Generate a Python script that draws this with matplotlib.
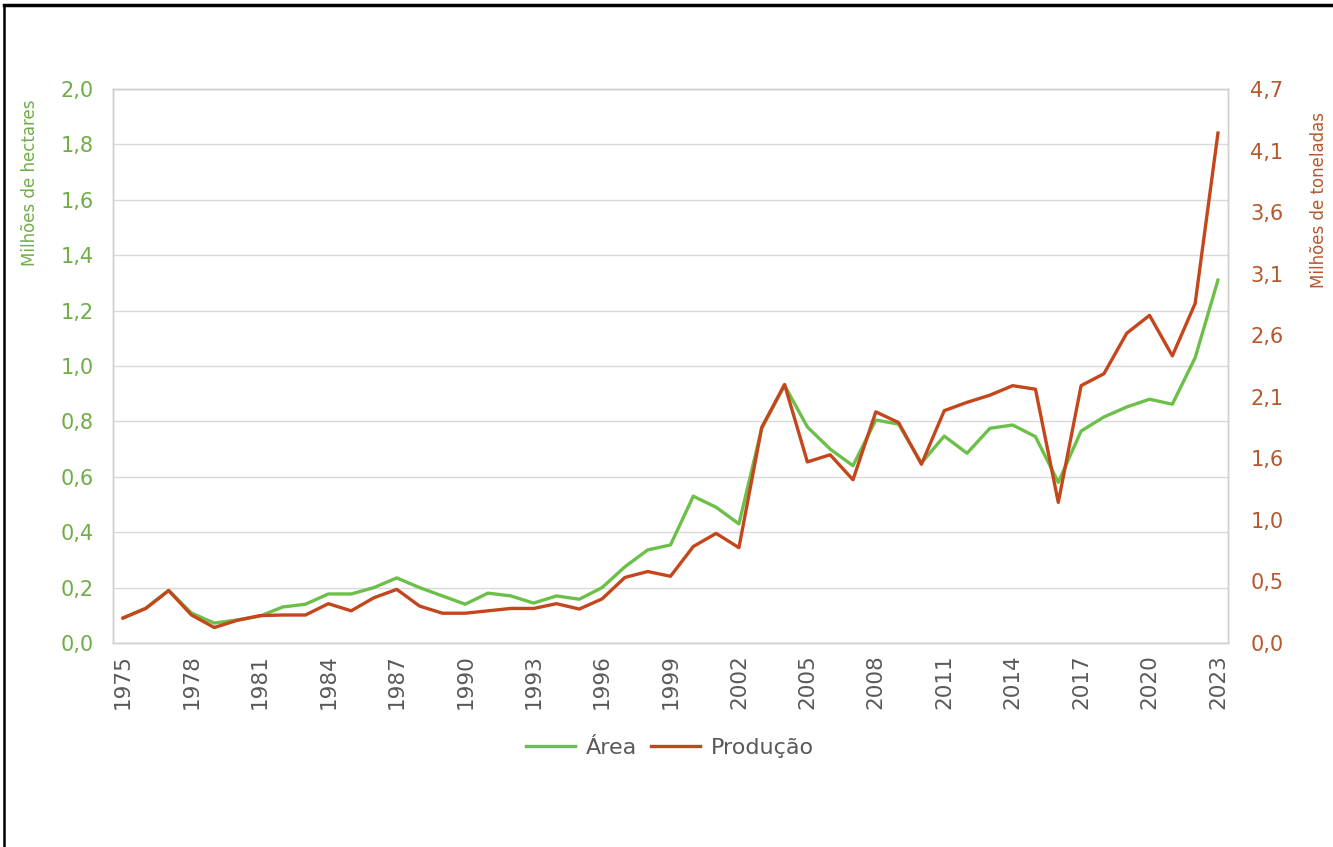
import numpy as np
import matplotlib.pyplot as plt
from matplotlib.lines import Line2D

# ---------- DATA ----------
years = list(range(1975, 2024))
area = [0.09, 0.126, 0.19, 0.108, 0.072, 0.083, 0.097, 0.13, 0.14, 0.177,
        0.177, 0.20, 0.235, 0.20, 0.17, 0.14, 0.18, 0.17, 0.144, 0.17,
        0.158, 0.20, 0.275, 0.336, 0.354, 0.53, 0.49, 0.43, 0.775, 0.93,
        0.78, 0.70, 0.64, 0.805, 0.79, 0.65, 0.747, 0.685, 0.775, 0.787,
        0.745, 0.58, 0.765, 0.816, 0.852, 0.88, 0.862, 1.03, 1.31]
producao = [0.21, 0.29, 0.44, 0.235, 0.13, 0.19, 0.23, 0.235, 0.235, 0.33,
            0.27, 0.38, 0.45, 0.31, 0.25, 0.25, 0.27, 0.29, 0.29, 0.33,
            0.285, 0.37, 0.55, 0.60, 0.56, 0.81, 0.92, 0.80, 1.81, 2.17,
            1.52, 1.58, 1.37, 1.94, 1.85, 1.50, 1.95, 2.02, 2.08, 2.16,
            2.13, 1.18, 2.16, 2.26, 2.60, 2.75, 2.41, 2.85, 4.28]
left_ticks = [0.0, 0.2, 0.4, 0.6, 0.8, 1.0, 1.2, 1.4, 1.6, 1.8, 2.0]
right_max = 4.65
right_labels = ['0,0', '0,5', '1,0', '1,6', '2,1', '2,6', '3,1', '3,6', '4,1', '4,7']
# --------------------------

GREEN = '#6cc04a'
RED = '#c4461c'
GREEN_TXT = '#70ad47'
RED_TXT = '#b5582c'
GRAY = '#595959'
NARROW = ['Liberation Sans Narrow', 'DejaVu Sans']

fig = plt.figure(figsize=(13.33, 8.47), dpi=100)
ax = fig.add_axes([113 / 1333, 1 - 643 / 847, 1115 / 1333, 554 / 847])
ax2 = ax.twinx()

ax.plot(years, area, color=GREEN, lw=2.4, label='Área', zorder=3)
ax2.plot(years, producao, color=RED, lw=2.4, label='Produção', zorder=4)

ax.set_xlim(1975 - 0.44, 2023 + 0.44)
ax.set_ylim(0, 2.0)
ax2.set_ylim(0, right_max)

ax.set_yticks(left_ticks)
ax.set_yticklabels([f"{v:.1f}".replace('.', ',') for v in left_ticks],
                   color=GREEN_TXT, fontsize=15)
ax2.set_yticks(np.linspace(0, right_max, len(right_labels)))
ax2.set_yticklabels(right_labels, color=RED_TXT, fontsize=15)

xt = years[::3]
ax.set_xticks(xt)
ax.set_xticklabels([str(y) for y in xt], rotation=90, color=GRAY,
                   fontsize=15.5, family=NARROW)

ax.grid(axis='y', color='#d9d9d9', lw=1)
ax.set_axisbelow(True)
for a in (ax, ax2):
    a.tick_params(length=0)
    for s in a.spines.values():
        s.set_color('#d0d0d0')
        s.set_linewidth(1)
ax.tick_params(axis='y', pad=14)
ax.tick_params(axis='x', pad=8)
ax2.tick_params(axis='y', pad=16)

fig.text(30 / 1333, 1 - 183 / 847, 'Milhões de hectares', rotation=90,
         ha='center', va='center', color=GREEN_TXT, fontsize=12, family=NARROW)
fig.text(1319 / 1333, 1 - 200 / 847, 'Milhões de toneladas', rotation=90,
         ha='center', va='center', color=RED_TXT, fontsize=12, family=NARROW)

handles = [Line2D([], [], color=GREEN, lw=2.4), Line2D([], [], color=RED, lw=2.4)]
leg = fig.legend(handles, ['Área', 'Produção'], loc='center',
                 bbox_to_anchor=(670 / 1333, 1 - 748 / 847), ncol=2,
                 frameon=False, fontsize=16, handlelength=2.2,
                 columnspacing=0.6, handletextpad=0.5)
for t in leg.get_texts():
    t.set_color(GRAY)

# page border (top and left edges)
fig.add_artist(Line2D([4 / 1333, 1], [1 - 5 / 847, 1 - 5 / 847],
                      transform=fig.transFigure, color='black', lw=2.5))
fig.add_artist(Line2D([4 / 1333, 4 / 1333], [0, 1 - 5 / 847],
                      transform=fig.transFigure, color='black', lw=1.8))

fig.savefig('out.png', dpi=100)
